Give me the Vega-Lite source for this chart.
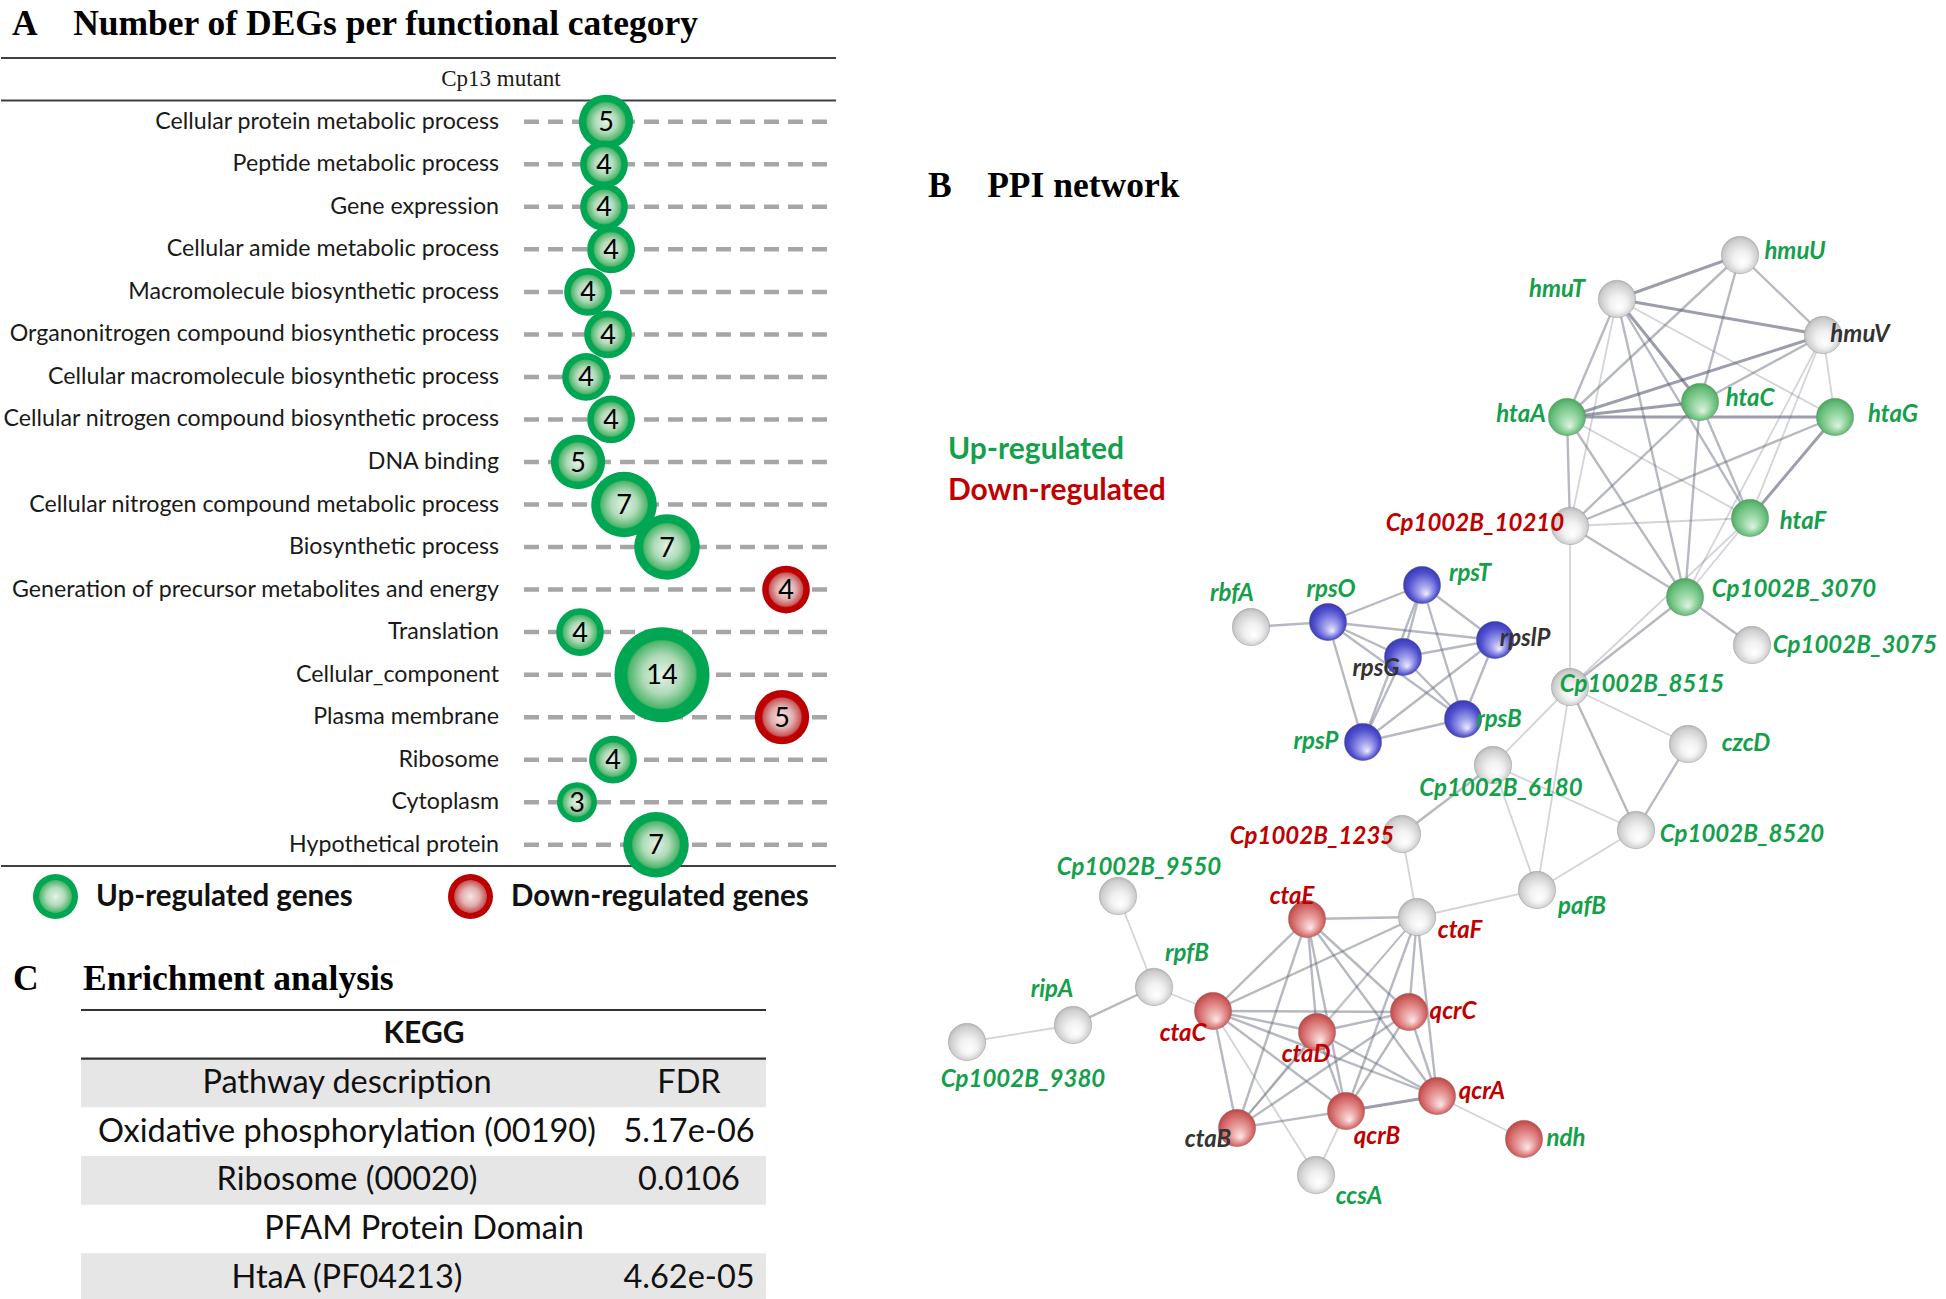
{
  "$schema": "https://vega.github.io/schema/vega-lite/v6.json",
  "background": "white",
  "padding": 0,
  "config": {
    "view": {"stroke": null},
    "title": {"font": "Liberation Serif", "fontWeight": "bold", "fontSize": 35.5, "color": "#000000", "anchor": "start", "baseline": "alphabetic"}
  },
  "datasets": {
    "cats": [
      {"cat": "Cellular protein metabolic process", "n": 5, "dir": "up", "pos": 605},
      {"cat": "Peptide metabolic process", "n": 4, "dir": "up", "pos": 603},
      {"cat": "Gene expression", "n": 4, "dir": "up", "pos": 603},
      {"cat": "Cellular amide metabolic process", "n": 4, "dir": "up", "pos": 610},
      {"cat": "Macromolecule biosynthetic process", "n": 4, "dir": "up", "pos": 587},
      {"cat": "Organonitrogen compound biosynthetic process", "n": 4, "dir": "up", "pos": 607},
      {"cat": "Cellular macromolecule biosynthetic process", "n": 4, "dir": "up", "pos": 585},
      {"cat": "Cellular nitrogen compound biosynthetic process", "n": 4, "dir": "up", "pos": 610},
      {"cat": "DNA binding", "n": 5, "dir": "up", "pos": 577},
      {"cat": "Cellular nitrogen compound metabolic process", "n": 7, "dir": "up", "pos": 623},
      {"cat": "Biosynthetic process", "n": 7, "dir": "up", "pos": 666},
      {"cat": "Generation of precursor metabolites and energy", "n": 4, "dir": "down", "pos": 785},
      {"cat": "Translation", "n": 4, "dir": "up", "pos": 579},
      {"cat": "Cellular_component", "n": 14, "dir": "up", "pos": 661},
      {"cat": "Plasma membrane", "n": 5, "dir": "down", "pos": 781},
      {"cat": "Ribosome", "n": 4, "dir": "up", "pos": 612},
      {"cat": "Cytoplasm", "n": 3, "dir": "up", "pos": 576},
      {"cat": "Hypothetical protein", "n": 7, "dir": "up", "pos": 655}
    ],
    "table": [
      {"row": 1, "desc": "KEGG", "fdr": ""},
      {"row": 2, "desc": "Pathway description", "fdr": "FDR"},
      {"row": 3, "desc": "Oxidative phosphorylation (00190)", "fdr": "5.17e-06"},
      {"row": 4, "desc": "Ribosome (00020)", "fdr": "0.0106"},
      {"row": 5, "desc": "PFAM Protein Domain", "fdr": ""},
      {"row": 6, "desc": "HtaA (PF04213)", "fdr": "4.62e-05"}
    ],
    "nodes": [
      {"id": "hmuU", "x": 1740, "y": 253, "grp": "gray", "reg": "up", "lx": 1795, "ly": 250},
      {"id": "hmuT", "x": 1617, "y": 297, "grp": "gray", "reg": "up", "lx": 1557, "ly": 288},
      {"id": "hmuV", "x": 1823, "y": 333, "grp": "gray", "reg": "none", "lx": 1860, "ly": 333},
      {"id": "htaA", "x": 1567, "y": 415, "grp": "green", "reg": "up", "lx": 1521, "ly": 413},
      {"id": "htaC", "x": 1700, "y": 400, "grp": "green", "reg": "up", "lx": 1750, "ly": 397},
      {"id": "htaG", "x": 1835, "y": 415, "grp": "green", "reg": "up", "lx": 1893, "ly": 413},
      {"id": "Cp1002B_10210", "x": 1570, "y": 524, "grp": "gray", "reg": "down", "lx": 1475, "ly": 522},
      {"id": "htaF", "x": 1750, "y": 516, "grp": "green", "reg": "up", "lx": 1803, "ly": 520},
      {"id": "Cp1002B_3070", "x": 1685, "y": 595, "grp": "green", "reg": "up", "lx": 1794, "ly": 588},
      {"id": "Cp1002B_3075", "x": 1752, "y": 643, "grp": "gray", "reg": "up", "lx": 1855, "ly": 644},
      {"id": "Cp1002B_8515", "x": 1570, "y": 685, "grp": "gray", "reg": "up", "lx": 1642, "ly": 683},
      {"id": "czcD", "x": 1688, "y": 742, "grp": "gray", "reg": "up", "lx": 1746, "ly": 742},
      {"id": "Cp1002B_8520", "x": 1636, "y": 828, "grp": "gray", "reg": "up", "lx": 1742, "ly": 833},
      {"id": "Cp1002B_6180", "x": 1493, "y": 763, "grp": "gray", "reg": "up", "lx": 1501, "ly": 787},
      {"id": "rbfA", "x": 1251, "y": 625, "grp": "gray", "reg": "up", "lx": 1232, "ly": 592},
      {"id": "rpsO", "x": 1328, "y": 620, "grp": "blue", "reg": "up", "lx": 1331, "ly": 588},
      {"id": "rpsT", "x": 1422, "y": 583, "grp": "blue", "reg": "up", "lx": 1470, "ly": 572},
      {"id": "rpsG", "x": 1403, "y": 655, "grp": "blue", "reg": "none", "lx": 1376, "ly": 667},
      {"id": "rpslP", "x": 1495, "y": 638, "grp": "blue", "reg": "none", "lx": 1525, "ly": 637},
      {"id": "rpsB", "x": 1463, "y": 717, "grp": "blue", "reg": "up", "lx": 1499, "ly": 718},
      {"id": "rpsP", "x": 1363, "y": 740, "grp": "blue", "reg": "up", "lx": 1316, "ly": 740},
      {"id": "Cp1002B_1235", "x": 1402, "y": 832, "grp": "gray", "reg": "down", "lx": 1312, "ly": 835},
      {"id": "pafB", "x": 1537, "y": 888, "grp": "gray", "reg": "up", "lx": 1582, "ly": 905},
      {"id": "ctaF", "x": 1417, "y": 915, "grp": "gray", "reg": "down", "lx": 1460, "ly": 929},
      {"id": "Cp1002B_9550", "x": 1118, "y": 894, "grp": "gray", "reg": "up", "lx": 1139, "ly": 866},
      {"id": "rpfB", "x": 1154, "y": 985, "grp": "gray", "reg": "up", "lx": 1187, "ly": 952},
      {"id": "ripA", "x": 1073, "y": 1023, "grp": "gray", "reg": "up", "lx": 1052, "ly": 988},
      {"id": "Cp1002B_9380", "x": 967, "y": 1040, "grp": "gray", "reg": "up", "lx": 1023, "ly": 1078},
      {"id": "ctaC", "x": 1213, "y": 1009, "grp": "red", "reg": "down", "lx": 1183, "ly": 1032},
      {"id": "ctaE", "x": 1307, "y": 917, "grp": "red", "reg": "down", "lx": 1292, "ly": 895},
      {"id": "ctaD", "x": 1317, "y": 1030, "grp": "red", "reg": "down", "lx": 1306, "ly": 1053},
      {"id": "ctaB", "x": 1237, "y": 1126, "grp": "red", "reg": "none", "lx": 1208, "ly": 1138},
      {"id": "qcrC", "x": 1409, "y": 1010, "grp": "red", "reg": "down", "lx": 1453, "ly": 1010},
      {"id": "qcrA", "x": 1437, "y": 1094, "grp": "red", "reg": "down", "lx": 1482, "ly": 1090},
      {"id": "qcrB", "x": 1346, "y": 1109, "grp": "red", "reg": "down", "lx": 1377, "ly": 1135},
      {"id": "ndh", "x": 1524, "y": 1137, "grp": "red", "reg": "up", "lx": 1566, "ly": 1137},
      {"id": "ccsA", "x": 1316, "y": 1173, "grp": "gray", "reg": "up", "lx": 1359, "ly": 1195}
    ],
    "edges": [
      {"s": "hmuT", "t": "hmuU", "w": 3},
      {"s": "hmuT", "t": "hmuV", "w": 3},
      {"s": "hmuU", "t": "hmuV", "w": 2},
      {"s": "hmuU", "t": "htaA", "w": 2},
      {"s": "hmuU", "t": "htaC", "w": 2},
      {"s": "hmuT", "t": "htaA", "w": 2},
      {"s": "hmuT", "t": "htaC", "w": 3},
      {"s": "hmuT", "t": "htaF", "w": 2},
      {"s": "hmuT", "t": "htaG", "w": 1},
      {"s": "hmuT", "t": "Cp1002B_3070", "w": 2},
      {"s": "hmuT", "t": "Cp1002B_10210", "w": 1},
      {"s": "hmuV", "t": "htaA", "w": 3},
      {"s": "hmuV", "t": "htaC", "w": 2},
      {"s": "hmuV", "t": "htaG", "w": 1},
      {"s": "hmuV", "t": "htaF", "w": 1},
      {"s": "hmuV", "t": "Cp1002B_3070", "w": 1},
      {"s": "htaA", "t": "htaC", "w": 3},
      {"s": "htaA", "t": "htaG", "w": 3},
      {"s": "htaA", "t": "Cp1002B_10210", "w": 2},
      {"s": "htaA", "t": "htaF", "w": 1},
      {"s": "htaA", "t": "Cp1002B_3070", "w": 2},
      {"s": "htaC", "t": "Cp1002B_10210", "w": 2},
      {"s": "htaC", "t": "Cp1002B_3070", "w": 2},
      {"s": "htaC", "t": "htaF", "w": 2},
      {"s": "htaG", "t": "Cp1002B_10210", "w": 2},
      {"s": "htaG", "t": "htaF", "w": 3},
      {"s": "Cp1002B_10210", "t": "htaF", "w": 1},
      {"s": "Cp1002B_10210", "t": "Cp1002B_3070", "w": 2},
      {"s": "Cp1002B_10210", "t": "Cp1002B_8515", "w": 1},
      {"s": "htaF", "t": "Cp1002B_3070", "w": 1},
      {"s": "htaF", "t": "Cp1002B_8515", "w": 1},
      {"s": "Cp1002B_3070", "t": "Cp1002B_3075", "w": 2},
      {"s": "Cp1002B_3070", "t": "Cp1002B_8515", "w": 2},
      {"s": "Cp1002B_8515", "t": "Cp1002B_6180", "w": 1},
      {"s": "Cp1002B_8515", "t": "czcD", "w": 1},
      {"s": "Cp1002B_8515", "t": "Cp1002B_8520", "w": 2},
      {"s": "Cp1002B_8515", "t": "pafB", "w": 1},
      {"s": "czcD", "t": "Cp1002B_8520", "w": 2},
      {"s": "Cp1002B_6180", "t": "Cp1002B_8520", "w": 1},
      {"s": "Cp1002B_6180", "t": "pafB", "w": 1},
      {"s": "Cp1002B_6180", "t": "Cp1002B_1235", "w": 2},
      {"s": "Cp1002B_8520", "t": "pafB", "w": 1},
      {"s": "Cp1002B_1235", "t": "ctaF", "w": 1},
      {"s": "pafB", "t": "ctaF", "w": 1},
      {"s": "rbfA", "t": "rpsO", "w": 2},
      {"s": "rpsO", "t": "rpsT", "w": 2},
      {"s": "rpsO", "t": "rpslP", "w": 2},
      {"s": "rpsO", "t": "rpsG", "w": 2},
      {"s": "rpsO", "t": "rpsB", "w": 2},
      {"s": "rpsO", "t": "rpsP", "w": 2},
      {"s": "rpsT", "t": "rpsG", "w": 2},
      {"s": "rpsT", "t": "rpsP", "w": 2},
      {"s": "rpsT", "t": "rpsB", "w": 2},
      {"s": "rpsT", "t": "rpslP", "w": 2},
      {"s": "rpsG", "t": "rpslP", "w": 2},
      {"s": "rpsG", "t": "rpsB", "w": 2},
      {"s": "rpsG", "t": "rpsP", "w": 2},
      {"s": "rpslP", "t": "rpsB", "w": 2},
      {"s": "rpslP", "t": "rpsP", "w": 2},
      {"s": "rpsB", "t": "rpsP", "w": 2},
      {"s": "ctaE", "t": "ctaF", "w": 2},
      {"s": "ctaE", "t": "ctaC", "w": 2},
      {"s": "ctaE", "t": "ctaD", "w": 2},
      {"s": "ctaE", "t": "ctaB", "w": 2},
      {"s": "ctaE", "t": "qcrB", "w": 2},
      {"s": "ctaE", "t": "qcrA", "w": 2},
      {"s": "ctaE", "t": "qcrC", "w": 2},
      {"s": "ctaF", "t": "ctaC", "w": 2},
      {"s": "ctaF", "t": "qcrC", "w": 2},
      {"s": "ctaF", "t": "qcrA", "w": 2},
      {"s": "ctaF", "t": "qcrB", "w": 2},
      {"s": "ctaF", "t": "ctaD", "w": 1},
      {"s": "ctaF", "t": "ctaB", "w": 1},
      {"s": "ctaC", "t": "qcrC", "w": 2},
      {"s": "ctaC", "t": "ctaD", "w": 2},
      {"s": "ctaC", "t": "qcrA", "w": 2},
      {"s": "ctaC", "t": "qcrB", "w": 2},
      {"s": "ctaC", "t": "ctaB", "w": 2},
      {"s": "ctaC", "t": "ccsA", "w": 1},
      {"s": "ctaC", "t": "rpfB", "w": 1},
      {"s": "ctaD", "t": "qcrC", "w": 2},
      {"s": "ctaD", "t": "qcrB", "w": 2},
      {"s": "ctaD", "t": "qcrA", "w": 2},
      {"s": "ctaD", "t": "ctaB", "w": 2},
      {"s": "qcrC", "t": "qcrA", "w": 2},
      {"s": "qcrC", "t": "qcrB", "w": 2},
      {"s": "qcrC", "t": "ctaB", "w": 2},
      {"s": "qcrA", "t": "qcrB", "w": 3},
      {"s": "qcrA", "t": "ndh", "w": 1},
      {"s": "qcrB", "t": "ctaB", "w": 2},
      {"s": "qcrB", "t": "ccsA", "w": 1},
      {"s": "rpfB", "t": "Cp1002B_9550", "w": 1},
      {"s": "rpfB", "t": "ripA", "w": 2},
      {"s": "ripA", "t": "Cp1002B_9380", "w": 1}
    ]
  },
  "resolve": {
    "scale": {"fill": "independent", "color": "independent", "size": "independent", "opacity": "independent", "strokeWidth": "independent"},
    "legend": {"fill": "independent", "color": "independent"}
  },
  "spacing": 79,
  "hconcat": [
    {
      "spacing": 84,
      "vconcat": [
        {
          "title": {"text": ["\u00a0", "A\u00a0\u00a0\u00a0\u00a0Number of DEGs per functional category"], "lineHeight": 6, "dx": 12, "offset": 15},
          "width": 835,
          "height": 808,
          "data": {"name": "cats"},
          "encoding": {
            "y": {
              "field": "cat", "type": "nominal", "axis": null,
              "scale": {
                "type": "band", "paddingInner": 0, "paddingOuter": 0,
                "domain": ["Cp13 mutant", "Cellular protein metabolic process", "Peptide metabolic process", "Gene expression", "Cellular amide metabolic process", "Macromolecule biosynthetic process", "Organonitrogen compound biosynthetic process", "Cellular macromolecule biosynthetic process", "Cellular nitrogen compound biosynthetic process", "DNA binding", "Cellular nitrogen compound metabolic process", "Biosynthetic process", "Generation of precursor metabolites and energy", "Translation", "Cellular_component", "Plasma membrane", "Ribosome", "Cytoplasm", "Hypothetical protein"]
              }
            }
          },
          "layer": [
            {
              "mark": {"type": "rule", "stroke": "#a6a6a6", "strokeWidth": 4.5, "strokeDash": [15, 9]},
              "encoding": {
                "x": {"datum": 523, "type": "quantitative", "scale": {"domain": [0, 835], "nice": false, "zero": false}, "axis": null},
                "x2": {"datum": 835}
              }
            },
            {
              "data": {"values": [{"cat": "Cp13 mutant"}, {"cat": "Hypothetical protein"}]},
              "mark": {"type": "rule", "stroke": "#404040", "strokeWidth": 2},
              "encoding": {"y": {"field": "cat", "type": "nominal", "bandPosition": 1}}
            },
            {
              "data": {"values": [{"cat": "Cp13 mutant"}]},
              "mark": {"type": "rule", "stroke": "#404040", "strokeWidth": 2},
              "encoding": {"y": {"field": "cat", "type": "nominal", "bandPosition": 0}}
            },
            {
              "data": {"values": [{"cat": "Cp13 mutant"}]},
              "mark": {"type": "text", "font": "Liberation Serif", "fontSize": 23, "color": "#1a1a1a"},
              "encoding": {"x": {"datum": 500, "type": "quantitative"}, "text": {"field": "cat"}}
            },
            {
              "mark": {"type": "text", "font": "Lato", "fontSize": 23.2, "align": "right", "color": "#1a1a1a"},
              "encoding": {"x": {"datum": 498, "type": "quantitative"}, "text": {"field": "cat"}}
            },
            {
              "mark": {"type": "circle", "opacity": 1},
              "encoding": {
                "x": {"field": "pos", "type": "quantitative"},
                "size": {"field": "n", "type": "quantitative", "scale": {"type": "linear", "domain": [3, 14], "range": [1600, 9025], "zero": false}, "legend": null},
                "fill": {
                  "field": "dir", "type": "nominal",
                  "scale": {
                    "domain": ["up", "down"],
                    "range": [
                      {"expr": "{gradient: 'radial', x1: 0.5, y1: 0.5, r1: 0, x2: 0.5, y2: 0.5, r2: 0.5, stops: [{offset: 0, color: '#e4f3e7'}, {offset: 0.4, color: '#b0dbb9'}, {offset: 0.71, color: '#4db56b'}, {offset: 0.74, color: '#00a651'}, {offset: 1, color: '#00a651'}]}"},
                      {"expr": "{gradient: 'radial', x1: 0.5, y1: 0.5, r1: 0, x2: 0.5, y2: 0.5, r2: 0.5, stops: [{offset: 0, color: '#f6e4e4'}, {offset: 0.4, color: '#e2b0b0'}, {offset: 0.71, color: '#c65555'}, {offset: 0.74, color: '#c00000'}, {offset: 1, color: '#b80000'}]}"}
                    ]
                  },
                  "legend": {
                    "orient": "none", "legendX": 32, "legendY": 816, "direction": "horizontal", "title": null,
                    "symbolType": "circle", "symbolSize": 2025, "symbolStrokeWidth": 0, "symbolOpacity": 1,
                    "labelFont": "Lato", "labelFontSize": 29.5, "labelFontWeight": "bold", "labelColor": "#111111",
                    "labelOffset": 18, "columnPadding": 95, "labelLimit": 600, "padding": 0,
                    "labelExpr": "datum.value == 'up' ? 'Up-regulated genes' : 'Down-regulated genes'"
                  }
                }
              }
            },
            {
              "mark": {"type": "text", "font": "Lato", "fontSize": 27, "color": "#000000", "dy": 1.5},
              "encoding": {"x": {"field": "pos", "type": "quantitative"}, "text": {"field": "n"}}
            }
          ]
        },
        {
          "title": {"text": "C\u00a0\u00a0\u00a0\u00a0\u00a0Enrichment analysis", "dx": 12, "offset": 11},
          "width": 835,
          "height": 292,
          "data": {"name": "table"},
          "encoding": {
            "y": {"field": "row", "type": "ordinal", "axis": null, "scale": {"type": "band", "domain": [1, 2, 3, 4, 5, 6], "paddingInner": 0, "paddingOuter": 0}}
          },
          "layer": [
            {
              "transform": [{"filter": "datum.row % 2 == 0"}],
              "mark": {"type": "rect", "fill": "#e7e6e6"},
              "encoding": {
                "x": {"datum": 80, "type": "quantitative", "scale": {"domain": [0, 835], "nice": false, "zero": false}, "axis": null},
                "x2": {"datum": 765}
              }
            },
            {
              "transform": [{"filter": "datum.row <= 2"}],
              "mark": {"type": "rule", "stroke": "#333333", "strokeWidth": 2.2},
              "encoding": {
                "y": {"field": "row", "type": "ordinal", "bandPosition": 0},
                "x": {"datum": 80, "type": "quantitative"},
                "x2": {"datum": 765}
              }
            },
            {
              "transform": [{"filter": "datum.row == 6"}],
              "mark": {"type": "rule", "stroke": "#333333", "strokeWidth": 2.2},
              "encoding": {
                "y": {"field": "row", "type": "ordinal", "bandPosition": 1},
                "x": {"datum": 80, "type": "quantitative"},
                "x2": {"datum": 765}
              }
            },
            {
              "transform": [{"filter": "datum.fdr != ''"}],
              "mark": {"type": "text", "font": "Lato", "fontSize": 32.5, "color": "#111111"},
              "encoding": {"x": {"datum": 346, "type": "quantitative"}, "text": {"field": "desc"}}
            },
            {
              "transform": [{"filter": "datum.fdr != ''"}],
              "mark": {"type": "text", "font": "Lato", "fontSize": 32.5, "color": "#111111"},
              "encoding": {"x": {"datum": 688, "type": "quantitative"}, "text": {"field": "fdr"}}
            },
            {
              "transform": [{"filter": "datum.row == 1"}],
              "mark": {"type": "text", "font": "Lato", "fontSize": 30, "fontWeight": "bold", "color": "#111111"},
              "encoding": {"x": {"datum": 423, "type": "quantitative"}, "text": {"field": "desc"}}
            },
            {
              "transform": [{"filter": "datum.row == 5"}],
              "mark": {"type": "text", "font": "Lato", "fontSize": 32.5, "color": "#111111"},
              "encoding": {"x": {"datum": 423, "type": "quantitative"}, "text": {"field": "desc"}}
            }
          ]
        }
      ]
    },
    {
      "title": {"text": "B\u00a0\u00a0\u00a0\u00a0PPI network", "dx": 10, "offset": -146},
      "width": 1016,
      "height": 1243,
      "layer": [
        {
          "data": {"name": "edges"},
          "transform": [
            {"lookup": "s", "from": {"data": {"name": "nodes"}, "key": "id", "fields": ["x", "y"]}, "as": ["sx", "sy"]},
            {"lookup": "t", "from": {"data": {"name": "nodes"}, "key": "id", "fields": ["x", "y"]}, "as": ["tx", "ty"]}
          ],
          "mark": {"type": "rule", "stroke": "#5f6377"},
          "encoding": {
            "x": {"field": "sx", "type": "quantitative", "scale": {"domain": [930, 1946], "nice": false, "zero": false}, "axis": null},
            "y": {"field": "sy", "type": "quantitative", "scale": {"domain": [56, 1299], "nice": false, "zero": false, "reverse": true}, "axis": null},
            "x2": {"field": "tx"},
            "y2": {"field": "ty"},
            "strokeWidth": {"field": "w", "type": "ordinal", "scale": {"domain": [1, 2, 3], "range": [1.8, 3, 4]}, "legend": null},
            "opacity": {"field": "w", "type": "ordinal", "scale": {"domain": [1, 2, 3], "range": [0.28, 0.62, 0.78]}, "legend": null}
          }
        },
        {
          "data": {"name": "nodes"},
          "mark": {"type": "circle", "size": 1400, "opacity": 1, "stroke": "#777777", "strokeWidth": 0.6, "strokeOpacity": 0.5},
          "encoding": {
            "x": {"field": "x", "type": "quantitative"},
            "y": {"field": "y", "type": "quantitative"},
            "fill": {
              "field": "grp", "type": "nominal", "legend": null,
              "scale": {
                "domain": ["gray", "green", "blue", "red"],
                "range": [
                  {"expr": "{gradient: 'radial', x1: 0.58, y1: 0.72, r1: 0, x2: 0.5, y2: 0.5, r2: 0.56, stops: [{offset: 0, color: '#ffffff'}, {offset: 0.4, color: '#f1f1f1'}, {offset: 0.8, color: '#cfcfcf'}, {offset: 1, color: '#a8a8a8'}]}"},
                  {"expr": "{gradient: 'radial', x1: 0.58, y1: 0.75, r1: 0, x2: 0.5, y2: 0.5, r2: 0.56, stops: [{offset: 0, color: '#dff3e3'}, {offset: 0.35, color: '#a3dbad'}, {offset: 0.75, color: '#66bd7a'}, {offset: 1, color: '#3e9c52'}]}"},
                  {"expr": "{gradient: 'radial', x1: 0.62, y1: 0.75, r1: 0, x2: 0.5, y2: 0.5, r2: 0.56, stops: [{offset: 0, color: '#eeeefc'}, {offset: 0.3, color: '#a3a3ec'}, {offset: 0.7, color: '#5252d0'}, {offset: 1, color: '#3030ac'}]}"},
                  {"expr": "{gradient: 'radial', x1: 0.6, y1: 0.75, r1: 0, x2: 0.5, y2: 0.5, r2: 0.56, stops: [{offset: 0, color: '#fde9e9'}, {offset: 0.35, color: '#eaa6a6'}, {offset: 0.75, color: '#d26464'}, {offset: 1, color: '#b33a3a'}]}"}
                ]
              }
            }
          }
        },
        {
          "data": {"name": "nodes"},
          "mark": {"type": "text", "font": "Lato", "fontStyle": "italic", "fontWeight": "bold", "fontSize": 24, "baseline": "middle", "align": "center"},
          "encoding": {
            "x": {"field": "lx", "type": "quantitative"},
            "y": {"field": "ly", "type": "quantitative"},
            "text": {"field": "id"},
            "color": {
              "field": "reg", "type": "nominal",
              "scale": {"domain": ["up", "down", "none"], "range": ["#14a04b", "#c00000", "#333333"]},
              "legend": {
                "orient": "none", "legendX": -12, "legendY": 377, "title": null, "values": ["up", "down"],
                "labelExpr": "datum.value == 'up' ? 'Up-regulated' : 'Down-regulated'",
                "labelFont": "Lato", "labelFontSize": 30, "labelFontWeight": "bold", "labelLimit": 500,
                "labelColor": {"expr": "datum.value == 'up' ? '#14a04b' : '#c00000'"},
                "symbolOpacity": 0, "symbolSize": 1, "symbolStrokeWidth": 0, "labelOffset": 0, "rowPadding": 11, "padding": 0
              }
            }
          }
        }
      ]
    }
  ]
}
